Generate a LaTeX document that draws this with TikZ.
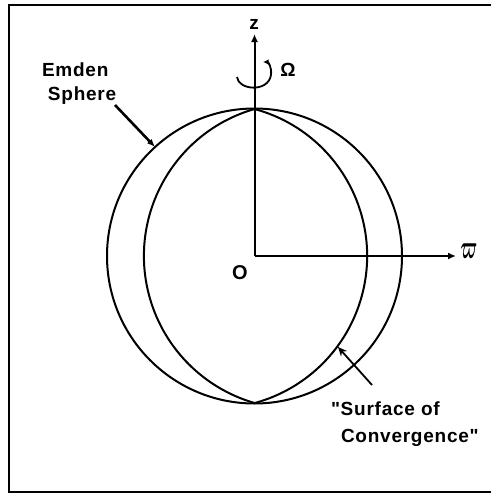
\documentclass[tikz,border=0pt]{standalone}
\usepackage{fontspec}
\usepackage{bm}
\setmainfont{Liberation Sans}
\newfontfamily\lettering[LetterSpace=4]{Liberation Sans}
\usetikzlibrary{arrows.meta}
\begin{document}
\begin{tikzpicture}[x=1pt,y=1pt,line width=2pt,
  lab/.style={font=\fontsize{19}{20}\selectfont\lettering\bfseries,inner sep=0pt,anchor=base west},
  sym/.style={font=\fontsize{19}{20}\selectfont\bfseries,inner sep=0pt},
  axisarrow/.style={-{Latex[length=8pt,width=7pt]}},
  ptr/.style={line width=2.6pt,-{Latex[length=8pt,width=6.5pt]}}]
\useasboundingbox (0,0) rectangle (491,-499);
% frame (right edge cut off)
\draw (491,-5) -- (9,-5) -- (9,-492) -- (491,-492);
% origin and axes
\coordinate (O) at (254.5,-256);
\coordinate (ztip) at (254.5,-34);
\coordinate (wtip) at (456,-256);
\draw[axisarrow] (O) -- (ztip);
\draw[axisarrow] (O) -- (wtip);
\node[sym] (zl) at (254,-24) {z};
\node[sym,font=\fontsize{20}{20}\selectfont,xscale=0.8,yscale=1.6] (wl) at (469,-251) {$\bm{\varpi}$};
\node[sym,font=\fontsize{20}{20}\selectfont\bfseries] (ol) at (240,-273) {O};
\node[sym] (om) at (288,-70) {Ω};
% Emden sphere
\draw (O) circle (147.5);
% surface of convergence
\coordinate (top) at (254.5,-109);
\draw (top) arc[start angle=74.9,end angle=-74.9,radius=152.3];
\draw (top) arc[start angle=106.1,end angle=253.9,radius=153];
% rotation arrow
\coordinate (r0) at (237,-77);
\coordinate (r1) at (271,-75);
\coordinate (r2) at (263,-62);
\draw[line width=1.8pt,-{Latex[length=5.5pt,width=5.5pt]}] (r0) .. controls (238,-90) and (268,-93) .. (r1) .. controls (272,-67) and (268,-62) .. (r2);
% labels
\node[lab] (em) at (41,-76) {Emden};
\node[lab] (sp) at (47,-100) {Sphere};
\node[lab] (su) at (330,-415) {"Surface of};
\node[lab] (co) at (340,-442) {Convergence"};
% pointers
\coordinate (e1) at (115,-105);
\coordinate (e2) at (155,-147);
\draw[ptr] (e1) -- (e2);
\coordinate (s1) at (372,-385);
\coordinate (s2) at (338,-347);
\draw[line width=1.8pt,-{Stealth[length=9pt,width=8pt]}] (s1) -- (s2);
\end{tikzpicture}
\end{document}
